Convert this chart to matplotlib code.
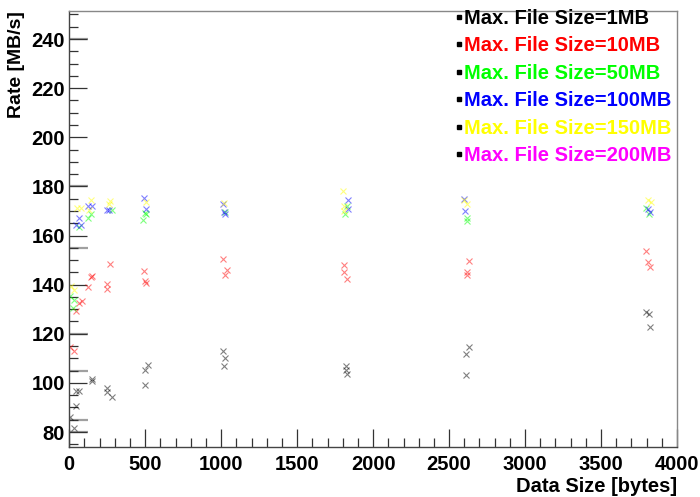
import matplotlib
matplotlib.use('Agg')
import matplotlib.pyplot as plt
import matplotlib.transforms as mtransforms
from matplotlib.lines import Line2D
from matplotlib.ticker import MultipleLocator

plt.rcParams['font.family'] = ['Liberation Sans', 'DejaVu Sans']

# ---------------- data ----------------
series_labels = ['Max. File Size=1MB', 'Max. File Size=10MB', 'Max. File Size=50MB',
                 'Max. File Size=100MB', 'Max. File Size=150MB', 'Max. File Size=200MB']
series_colors = ['#000000', '#ff0000', '#00ff00', '#0000ff', '#ffff00', '#ff00ff']

x_1mb = [5, 31, 44, 42, 64, 147, 150, 246, 246, 279, 500, 516, 498, 1013, 1026, 1018,
         1822, 1822, 1826, 2628, 2612, 2612, 3794, 3813, 3825]
y_1mb = [86.3, 81.7, 90.5, 96.7, 96.7, 101.6, 100.8, 97.8, 96.2, 94.2, 105.3, 107.2, 99.2,
         112.8, 110.1, 106.7, 106.7, 105.3, 103.7, 114.6, 111.8, 103.3, 128.9, 128.1, 122.7]

x_10mb = [5, 33, 44, 66, 82, 125, 141, 147, 246, 250, 268, 491, 500, 507, 1011, 1036, 1022,
          1809, 1809, 1827, 2628, 2618, 2618, 3794, 3812, 3825]
y_10mb = [114.8, 113.1, 129.4, 132.5, 133.2, 138.9, 143.0, 143.4, 140.2, 138.4, 148.6,
          145.4, 141.3, 140.5, 150.6, 145.8, 143.9, 147.8, 145.3, 142.2, 149.7, 145.2, 144.1,
          153.6, 149.1, 147.2]

x_50mb = [5, 31, 26, 64, 125, 141, 279, 498, 503, 487, 1026, 1829, 1816, 2615, 2615, 3799, 3816]
y_50mb = [135.5, 133.9, 130.5, 163.4, 167.2, 168.6, 170.3, 169.3, 168.9, 166.4, 169.7,
          172.0, 168.9, 167.2, 165.8, 171.3, 168.6]

x_100mb = [65, 44, 79, 125, 147, 246, 264, 491, 505, 1013, 1018, 1026, 1832, 1832, 2599, 2605,
           3807, 3820]
y_100mb = [167.1, 164.3, 164.3, 172.0, 172.0, 170.3, 170.3, 175.1, 170.9, 172.7, 169.7, 168.9,
           174.4, 170.6, 174.7, 170.0, 170.6, 169.5]

x_150mb = [9, 31, 49, 75, 143, 128, 268, 262, 505, 1018, 1799, 1809, 1809, 2615, 2599, 3807, 3826]
y_150mb = [139.3, 137.7, 171.0, 171.3, 174.4, 170.2, 174.0, 173.0, 173.7, 173.3, 178.1, 172.0,
           169.9, 172.9, 174.5, 174.4, 173.6]

x_200mb = []
y_200mb = []

# ticks of a second, overlapped frame (drawn grey in the original)
overlay_ticks = [240, 180, 155, 120, 105, 85, 80]

xs = [x_1mb, x_10mb, x_50mb, x_100mb, x_150mb, x_200mb]
ys = [y_1mb, y_10mb, y_50mb, y_100mb, y_150mb, y_200mb]

# ---------------- figure ----------------
W, H, DPI = 700, 497, 100
fig = plt.figure(figsize=(W / DPI, H / DPI), dpi=DPI)
ax = fig.add_axes([69.3 / W, 1 - 447 / H, (677 - 69.3) / W, (447 - 11) / H])

for x, y, c in zip(xs, ys, series_colors):
    if len(x):
        ax.plot(x, y, linestyle='none', marker='x', markersize=3.8, markeredgewidth=0.8,
                color=c, alpha=0.5)

ax.set_xlim(0, 4000)
ax.set_ylim(73.9, 251.4)

ax.xaxis.set_major_locator(MultipleLocator(500))
ax.xaxis.set_minor_locator(MultipleLocator(100))
ax.yaxis.set_major_locator(MultipleLocator(20))
ax.yaxis.set_minor_locator(MultipleLocator(5))

ax.tick_params(which='major', direction='in', length=13, width=0.9, color='#333333',
               labelsize=14.5, pad=3)
ax.tick_params(which='minor', direction='in', length=6.5, width=0.9, color='#333333')
ax.tick_params(axis='x', pad=6)
ax.tick_params(top=False, right=False, which='both')
for lab in ax.get_xticklabels() + ax.get_yticklabels():
    lab.set_fontweight('bold')

for s in ['left', 'bottom']:
    ax.spines[s].set_color('#444444')
    ax.spines[s].set_linewidth(1.0)
for s in ['top', 'right']:
    ax.spines[s].set_color('#888888')
    ax.spines[s].set_linewidth(1.0)

# grey overlapped ticks
trans = mtransforms.blended_transform_factory(ax.transAxes, ax.transData)
ax.hlines(overlay_ticks, 0, 19 / (677 - 69.3), transform=trans, colors='#a0a0a0',
          linewidth=1.6, zorder=1)

ax.set_xlabel('Data Size [bytes]', fontsize=14.5, fontweight='bold', loc='right', labelpad=2)
ax.set_ylabel('Rate [MB/s]', fontsize=14, fontweight='bold', loc='top', labelpad=5)

handles = [Line2D([], [], linestyle='none', marker='s', markersize=2.5, color='black')
           for _ in series_labels]
leg = ax.legend(handles, series_labels, loc='upper left',
                bbox_to_anchor=((452 - 69.3) / (677 - 69.3), 1.0 + 6 / (447 - 11)),
                frameon=False, labelcolor=series_colors, handlelength=0.3,
                handletextpad=0.12, borderaxespad=0, borderpad=0.2,
                labelspacing=0.42, prop={'size': 14.5, 'weight': 'bold'})

fig.savefig('out.png', dpi=DPI)
